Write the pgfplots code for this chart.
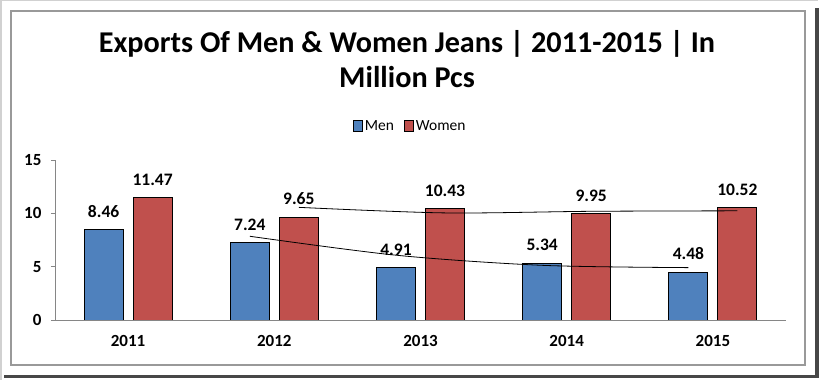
\documentclass[border=0pt]{standalone}
\usepackage{pgfplots}
\pgfplotsset{compat=1.18}
\usepackage{fontspec}
\setmainfont{Carlito}
\definecolor{menblue}{HTML}{4F81BD}
\definecolor{womenred}{HTML}{C0504D}
\definecolor{axgray}{HTML}{868686}
\begin{document}
\begin{tikzpicture}[x=1pt,y=1pt]
\useasboundingbox (0,0) rectangle (820,380);
\fill[white] (0,0) rectangle (820,380);
\draw[black!18, line width=1.5pt] (0.75,0) -- (0.75,379.25) -- (818,379.25);
\fill[black!72] (815,2) rectangle (818.5,372);
\fill[black!72] (4,2) rectangle (818.5,5);
\draw[black!40, line width=1.6pt] (11,15) rectangle (805,369);
\node[anchor=base, font=\bfseries\fontsize{30.2}{34}\selectfont] at (407,327) {Exports Of Men \& Women Jeans | 2011-2015 | In};
\node[anchor=base, font=\bfseries\fontsize{30.2}{34}\selectfont] at (407,292) {Million Pcs};
\begin{axis}[
 at={(55pt,60pt)}, anchor=south west, scale only axis, width=731pt, height=160pt,
 xmin=-0.5, xmax=4.5, ymin=0, ymax=15,
 axis x line*=bottom, axis y line*=left,
 axis line style={axgray, line width=0.9pt, -},
 xtick={0,...,4}, xticklabels={2011,2012,2013,2014,2015},
 xtick style={draw=none},
 ytick={0,5,10,15}, tick align=outside,
 ytick style={axgray, line width=0.9pt}, major tick length=4pt,
 ticklabel style={font=\bfseries\fontsize{17}{19}\selectfont},
 /pgf/number format/assume math mode=true,
 xticklabel style={yshift=-8pt},
 yticklabel style={xshift=-6pt},
 legend style={at={(0.486,1.2125)}, anchor=center, draw=none, fill=none,
   legend columns=2, font=\fontsize{15.5}{17}\selectfont,
   /tikz/every even column/.append style={column sep=8pt},
   legend cell align=left},
 legend image code/.code={\draw[#1, line width=0.9pt] (0pt,-5pt) rectangle (9pt,6pt);},
 point meta=explicit symbolic,
]
\addplot[ybar, bar width=39pt, bar shift=-24.5pt, fill=menblue, draw=black, line width=0.9pt,
  nodes near coords, nodes near coords style={font=\bfseries\fontsize{17.5}{19}\selectfont, anchor=base, xshift=-24.5pt, yshift=12.5pt, text=black}]
  coordinates {(0,8.46) [8.46] (1,7.24) [7.24] (2,4.91) [4.91] (3,5.34) [5.34] (4,4.48) [4.48]};
\addlegendentry{Men}
\addplot[ybar, bar width=39pt, bar shift=24.5pt, fill=womenred, draw=black, line width=0.9pt,
  nodes near coords, nodes near coords style={font=\bfseries\fontsize{17.5}{19}\selectfont, anchor=base, xshift=24.5pt, yshift=12.5pt, text=black}]
  coordinates {(0,11.47) [11.47] (1,9.65) [9.65] (2,10.43) [10.43] (3,9.95) [9.95] (4,10.52) [10.52]};
\addlegendentry{Women}
\addplot[black, line width=0.8pt, smooth, mark=none, forget plot]
  coordinates {(0.8324,7.85) (1.8324,6.075) (2.8324,5.125) (3.8324,4.91)};
\addplot[black, line width=0.8pt, smooth, mark=none, forget plot]
  coordinates {(1.1676,10.56) (2.1676,10.04) (3.1676,10.19) (4.1676,10.235)};
\end{axis}
\end{tikzpicture}
\end{document}
